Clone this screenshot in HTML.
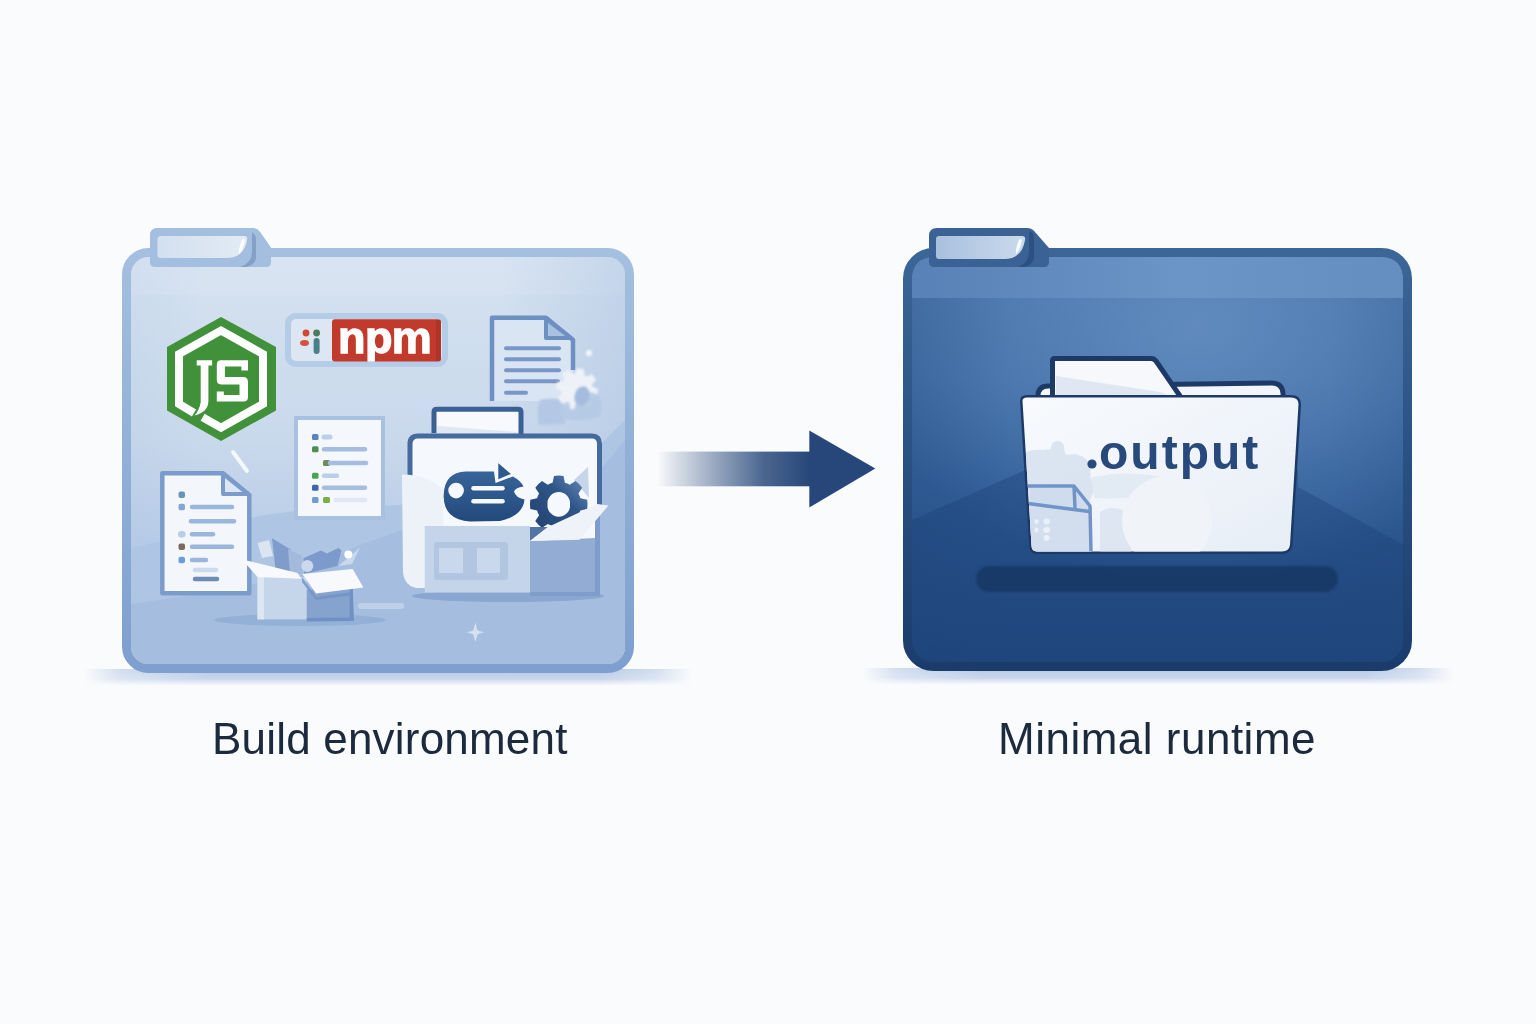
<!DOCTYPE html>
<html><head><meta charset="utf-8">
<style>
html,body{margin:0;padding:0;width:1536px;height:1024px;overflow:hidden;background:#fafbfd;}
svg{position:absolute;left:0;top:0;display:block;will-change:transform;}
.lbl{position:absolute;will-change:transform;font-family:"Liberation Sans",sans-serif;color:#1b2a3c;font-size:43px;line-height:1;white-space:nowrap;}
</style></head>
<body>
<svg width="1536" height="1024" viewBox="0 0 1536 1024">
<defs>
  <linearGradient id="lfFill" x1="0" y1="0" x2="0" y2="1">
    <stop offset="0" stop-color="#d5e2f0"/>
    <stop offset="0.45" stop-color="#c9d9ec"/>
    <stop offset="1" stop-color="#a3bde0"/>
  </linearGradient>
  <linearGradient id="lfStroke" x1="0" y1="0" x2="0" y2="1">
    <stop offset="0" stop-color="#a4bfdf"/>
    <stop offset="1" stop-color="#7e9fcf"/>
  </linearGradient>
  <linearGradient id="rfFill" x1="0" y1="0" x2="0" y2="1">
    <stop offset="0" stop-color="#4673aa"/>
    <stop offset="0.3" stop-color="#3d6ba4"/>
    <stop offset="0.55" stop-color="#305d97"/>
    <stop offset="1" stop-color="#214a80"/>
  </linearGradient>
  <linearGradient id="rfEdge" x1="0" y1="0" x2="1" y2="0">
    <stop offset="0" stop-color="#1d3d6c" stop-opacity="0.15"/>
    <stop offset="0.2" stop-color="#1d3d6c" stop-opacity="0"/>
    <stop offset="0.85" stop-color="#1d3d6c" stop-opacity="0"/>
    <stop offset="1" stop-color="#1d3d6c" stop-opacity="0.08"/>
  </linearGradient>
  <linearGradient id="tabInR" x1="0" y1="0" x2="1" y2="0">
    <stop offset="0" stop-color="#a9c0de"/>
    <stop offset="1" stop-color="#cadaec"/>
  </linearGradient>
  <linearGradient id="tabInL" x1="0" y1="0" x2="1" y2="0">
    <stop offset="0" stop-color="#d3e0ef"/>
    <stop offset="1" stop-color="#e2ebf5"/>
  </linearGradient>
  <linearGradient id="bandR" x1="0" y1="0" x2="1" y2="0">
    <stop offset="0" stop-color="#5882b7"/>
    <stop offset="0.55" stop-color="#6b95c7"/>
    <stop offset="1" stop-color="#648dc0"/>
  </linearGradient>
  <linearGradient id="rfStroke" x1="0" y1="0" x2="0" y2="1">
    <stop offset="0" stop-color="#3c6697"/>
    <stop offset="0.3" stop-color="#30598c"/>
    <stop offset="1" stop-color="#1b3c6b"/>
  </linearGradient>
  <radialGradient id="rfGlow" cx="0.58" cy="0.08" r="0.7">
    <stop offset="0" stop-color="#6892c5" stop-opacity="0.8"/>
    <stop offset="1" stop-color="#6a93c5" stop-opacity="0"/>
  </radialGradient>
  <linearGradient id="ifFill" x1="0" y1="0" x2="0" y2="1">
    <stop offset="0" stop-color="#f7f9fc"/>
    <stop offset="1" stop-color="#e9eff7"/>
  </linearGradient>
  <filter id="blur1" x="-10%" y="-50%" width="120%" height="200%"><feGaussianBlur stdDeviation="1.2"/></filter>
  <clipPath id="ifClip"><path d="M1022.5 401 Q1022.5 397.5 1027 397.5 L1291 397.5 Q1298.5 397.5 1298.5 404 L1290 545 Q1289 551.5 1282 551.5 L1037 551.5 Q1031.5 551.5 1031.5 545 Z"/></clipPath>
  <filter id="blur08" x="-20%" y="-20%" width="140%" height="140%"><feGaussianBlur stdDeviation="0.8"/></filter>
  <clipPath id="lfClip"><rect x="131" y="257" width="494" height="407" rx="17"/></clipPath>
  <linearGradient id="gearG" x1="0" y1="1" x2="1" y2="0">
    <stop offset="0" stop-color="#213f6f"/>
    <stop offset="0.6" stop-color="#2f5588"/>
    <stop offset="1" stop-color="#6a8cbb"/>
  </linearGradient>
  <clipPath id="npmClip"><rect x="332" y="319.3" width="109" height="42.2"/></clipPath>
  <linearGradient id="ifShade" x1="0" y1="0" x2="1" y2="1">
    <stop offset="0" stop-color="#f8fafd"/>
    <stop offset="0.6" stop-color="#eef3f9"/>
    <stop offset="1" stop-color="#e6edf6"/>
  </linearGradient>
  <linearGradient id="bubG" x1="0" y1="0" x2="0" y2="1">
    <stop offset="0" stop-color="#38649a"/>
    <stop offset="1" stop-color="#23497c"/>
  </linearGradient>
  <linearGradient id="lfEdge" x1="0" y1="0" x2="1" y2="0">
    <stop offset="0" stop-color="#9db8dc" stop-opacity="0.12"/>
    <stop offset="0.15" stop-color="#9db8dc" stop-opacity="0"/>
    <stop offset="0.75" stop-color="#9db8dc" stop-opacity="0"/>
    <stop offset="1" stop-color="#9db8dc" stop-opacity="0.32"/>
  </linearGradient>
  <linearGradient id="arrowG" x1="0" y1="0" x2="1" y2="0">
    <stop offset="0" stop-color="#2a4b7c" stop-opacity="0"/>
    <stop offset="0.12" stop-color="#2a4b7c" stop-opacity="0.15"/>
    <stop offset="0.4" stop-color="#2a4b7c" stop-opacity="0.5"/>
    <stop offset="0.7" stop-color="#2a4b7c" stop-opacity="0.85"/>
    <stop offset="1" stop-color="#27477a"/>
  </linearGradient>
  <linearGradient id="shadowG" x1="0" y1="0" x2="0" y2="1">
    <stop offset="0" stop-color="#a9c0e1" stop-opacity="0.85"/>
    <stop offset="0.6" stop-color="#b3c7e4" stop-opacity="0.7"/>
    <stop offset="1" stop-color="#c6d5ea" stop-opacity="0"/>
  </linearGradient>
  <linearGradient id="shMaskG" x1="0" y1="0" x2="1" y2="0">
    <stop offset="0" stop-color="#fff" stop-opacity="0"/>
    <stop offset="0.06" stop-color="#fff" stop-opacity="0.6"/>
    <stop offset="0.2" stop-color="#fff" stop-opacity="1"/>
    <stop offset="0.85" stop-color="#fff" stop-opacity="1"/>
    <stop offset="0.94" stop-color="#fff" stop-opacity="0.6"/>
    <stop offset="1" stop-color="#fff" stop-opacity="0"/>
  </linearGradient>
  <mask id="shMaskL" maskUnits="userSpaceOnUse" x="80" y="660" width="620" height="40"><rect x="84" y="660" width="608" height="40" fill="url(#shMaskG)"/></mask>
  <mask id="shMaskR" maskUnits="userSpaceOnUse" x="850" y="660" width="620" height="40"><rect x="862" y="660" width="592" height="40" fill="url(#shMaskG)"/></mask>
</defs>

<!-- ============ LEFT FOLDER ============ -->
<g id="leftFolder">
  <rect x="84" y="669" width="608" height="17" fill="url(#shadowG)" mask="url(#shMaskL)"/>
  <!-- tab -->
  <path d="M150 236 Q150 228 158 228 L252 228 Q257 228 260 232 L271 248 L271 267 L150 267 Z" fill="#a3bede"/>
  <!-- body -->
  <rect x="126.5" y="252.5" width="503" height="416" rx="22" fill="url(#lfFill)" stroke="url(#lfStroke)" stroke-width="9"/>
  <g clip-path="url(#lfClip)">
    <rect x="131" y="257" width="494" height="38" fill="#e0e9f4" opacity="0.3"/>
    <rect x="131" y="257" width="494" height="407" fill="url(#lfEdge)"/>
    <!-- hills -->
    <path d="M131 548 Q190 536 255 517 Q300 508 400 505 L600 445 L625 420 L625 664 L131 664 Z" fill="#afc5e4"/>
    <path d="M131 604 Q220 592 300 575 L352 548 L404 529 L600 470 L625 440 L625 664 L131 664 Z" fill="#a5bee0"/>

    <!-- JS hexagon -->
    <path d="M221 317 L276 347 L276 410.5 L221 441 L167 410.5 L167 347 Z" fill="#41913a"/>
    <path d="M202.6 417.3 L221 427.7 L263 404 L263 354 L221 330.5 L179 354 L179 404 L194 413" fill="none" stroke="#ffffff" stroke-width="8" stroke-linejoin="miter"/>
    <path d="M196.7 360.2 L212.1 360.2 L212.1 365.4 L208.4 365.4 L208.4 401 Q208.4 412 194.5 415.5 Q199.5 410 200.7 402 L200.7 365.4 L196.7 365.4 Z" fill="#ffffff"/>
    <path d="M216.8 364.5 Q216.8 360.2 221 360.2 L248 360.2 L248 370.5 L241.4 370.5 L241.4 366.5 L224.9 366.5 L224.9 377 L243 377 Q248 377 248 382 L248 397 Q248 401.6 243.4 401.6 L216.8 401.6 L216.8 391.4 L223.8 391.4 L223.8 395 L239.5 395 L239.5 384.4 L221 384.4 Q216.8 384.4 216.8 380 Z" fill="#ffffff"/>

    <!-- npm badge -->
    <rect x="288" y="316" width="157" height="48" rx="8" fill="#dce7f3" stroke="#b5cce7" stroke-width="6"/>
    <rect x="332" y="319.3" width="109" height="42.2" rx="3" fill="#c23a2c"/>
    <rect x="436" y="320" width="5" height="41" rx="2" fill="#a52f24" opacity="0.6"/>
    <text x="338" y="352.7" font-family="Liberation Sans" font-weight="bold" font-size="45" fill="#ffffff" stroke="#ffffff" stroke-width="1.3" letter-spacing="-0.6" clip-path="url(#npmClip)">npm</text>
    <circle cx="306" cy="333" r="3.4" fill="#d8452f"/>
    <circle cx="316.6" cy="333" r="3.4" fill="#4d7a5e"/>
    <ellipse cx="304.5" cy="343" rx="4.5" ry="3" fill="#d6503a"/>
    <rect x="313.6" y="338" width="6" height="16" rx="3" fill="#4b7f88"/>

    <!-- top right document -->
    <path d="M492 401 L492 317.7 L546 317.7 L573 340 L573 401 Z" fill="#d9e5f2"/><path d="M492 401 L492 317.7 L546 317.7 L573 340 L573 370" fill="none" stroke="#6d8fc2" stroke-width="4.5" stroke-linejoin="round"/>
    <path d="M546 319 L546 338 L571 338 Z" fill="#a9c2e0" stroke="#6d8fc2" stroke-width="4" stroke-linejoin="round"/>
    <g stroke="#7896c6" stroke-width="4" stroke-linecap="round">
      <line x1="506" y1="348.3" x2="559" y2="348.3"/>
      <line x1="506" y1="359.2" x2="559" y2="359.2"/>
      <line x1="506" y1="370.2" x2="559" y2="370.2"/>
      <line x1="506" y1="381.3" x2="558" y2="381.3"/>
      <line x1="506" y1="392.8" x2="526" y2="392.8"/>
    </g>
    <!-- fuzzy gear cluster -->
    <g filter="url(#blur08)">
      <path d="M540 400 Q552 397 563 400 L565 424 L539 425 Q536 412 540 400 Z" fill="#b3c8e4"/>
      <path d="M560 407 Q575 401 592 402 Q603 406 600 416 Q590 421 570 420 Q558 418 560 407 Z" fill="#b6cbe5"/>
      <path d="M574.7 373.7 L577.2 368.0 L584.0 369.2 L584.4 375.4 A15.5 15.5 0 0 1 586.2 376.5 L586.2 376.5 L592.0 374.3 L596.0 380.0 L591.9 384.6 A15.5 15.5 0 0 1 592.3 386.7 L592.3 386.7 L598.0 389.2 L596.8 396.0 L590.6 396.4 A15.5 15.5 0 0 1 589.5 398.2 L589.5 398.2 L591.7 404.0 L586.0 408.0 L581.4 403.9 A15.5 15.5 0 0 1 579.3 404.3 L579.3 404.3 L576.8 410.0 L570.0 408.8 L569.6 402.6 A15.5 15.5 0 0 1 567.8 401.5 L567.8 401.5 L562.0 403.7 L558.0 398.0 L562.1 393.4 A15.5 15.5 0 0 1 561.7 391.3 L561.7 391.3 L556.0 388.8 L557.2 382.0 L563.4 381.6 A15.5 15.5 0 0 1 564.5 379.8 L564.5 379.8 L562.3 374.0 L568.0 370.0 L572.6 374.1 A15.5 15.5 0 0 1 574.7 373.7 Z" fill="#eef2f8"/>
      <path d="M588 392 Q600 392 602 404 Q603 416 590 419 Q578 420 574 410 Q576 396 588 392 Z" fill="#b5cae5" opacity="0.95"/>
      <ellipse cx="582" cy="396" rx="7.5" ry="10" transform="rotate(15 582 396)" fill="#a4bcde"/>
      <circle cx="589" cy="353" r="3" fill="#f4f7fb"/>
    </g>

    <!-- middle doc -->
    <rect x="296" y="418" width="87" height="100" fill="#f4f7fb" stroke="#a9c1e0" stroke-width="4"/>
    <g stroke-linecap="round">
      <rect x="312" y="434" width="6.5" height="6" rx="1.5" fill="#5a82c0"/>
      <line x1="324" y1="437" x2="330" y2="437" stroke="#bcd0ea" stroke-width="5"/>
      <rect x="312" y="446.2" width="6.5" height="6" rx="1.5" fill="#4f8d55"/>
      <line x1="324" y1="449.2" x2="365" y2="449.2" stroke="#a4bde0" stroke-width="4.5"/>
      <rect x="323" y="460" width="7" height="6" rx="1.5" fill="#6f8a63"/>
      <line x1="330" y1="463" x2="366" y2="463" stroke="#a4bde0" stroke-width="4.5"/>
      <rect x="312" y="472.8" width="6.5" height="6" rx="1.5" fill="#4aa64a"/>
      <line x1="324" y1="475.8" x2="337" y2="475.8" stroke="#bccfe9" stroke-width="4.5"/>
      <rect x="312" y="484.8" width="6.5" height="6" rx="1.5" fill="#3b66b1"/>
      <line x1="324" y1="487.8" x2="365" y2="487.8" stroke="#a4bde0" stroke-width="4.5"/>
      <rect x="312" y="497" width="6.5" height="6" rx="1.5" fill="#6f9bd6"/>
      <rect x="323" y="497" width="7" height="6" rx="1.5" fill="#7ab04a"/>
      <line x1="336" y1="500" x2="365" y2="500" stroke="#dfe8f3" stroke-width="4.5"/>
    </g>

    <!-- slash -->
    <line x1="233" y1="452" x2="247" y2="471" stroke="#f4f7fb" stroke-width="4" stroke-linecap="round"/>

    <!-- left doc -->
    <path d="M162.3 593.3 L162.3 473.3 L223 473.3 L249.3 495 L249.3 593.3 Z" fill="#f3f6fa" stroke="#7b9bcb" stroke-width="4.5" stroke-linejoin="round"/>
    <path d="M223 474 L223 494 L248 494 Z" fill="#dde7f3" stroke="#7b9bcb" stroke-width="4" stroke-linejoin="round"/>
    <g stroke-linecap="round" stroke-width="4.5">
      <rect x="178.5" y="491.5" width="6.5" height="6.5" rx="2" fill="#6a93b5"/>
      <rect x="178.5" y="503.8" width="6.5" height="6.5" rx="2" fill="#82a5d6"/>
      <line x1="192" y1="507" x2="232" y2="507" stroke="#9ab6dc"/>
      <line x1="191" y1="521.3" x2="234" y2="521.3" stroke="#9ab6dc"/>
      <rect x="178" y="531" width="7.5" height="6.5" rx="3" fill="#b8cdea"/>
      <line x1="192" y1="534.3" x2="213" y2="534.3" stroke="#9ab6dc"/>
      <rect x="178.5" y="543.5" width="6.5" height="6.5" rx="2" fill="#7d6a5e"/>
      <line x1="192" y1="546.8" x2="232" y2="546.8" stroke="#9ab6dc"/>
      <rect x="178.5" y="556.8" width="6.5" height="6.5" rx="2" fill="#6a9de0"/>
      <line x1="192" y1="560" x2="206" y2="560" stroke="#9ab6dc"/>
      <line x1="195" y1="570" x2="216" y2="570" stroke="#cbdaee"/>
      <line x1="195" y1="579" x2="217" y2="579" stroke="#6d8cb5"/>
    </g>

    <!-- open box -->
    <ellipse cx="300" cy="620" rx="86" ry="6" fill="#8caad3" opacity="0.7"/>
    <path d="M257.5 543 L269 540 L273 556 L262 558 Z" fill="#dbe5f2"/>
    <path d="M272 538.3 L290.7 549.5 L291 574 L276 574 Z" fill="#7f9cca"/>
    <path d="M288 549 L302 556 L303 574 L290 574 Z" fill="#a3badd"/>
    <path d="M303.4 558.3 L321 550.5 L326.8 553.4 L338.5 548 L341.4 550.5 L337.5 566 L304 574 Z" fill="#7c9acb"/>
    <circle cx="307.3" cy="566" r="6" fill="#cbd9ec"/>
    <path d="M338.5 566 L360 547.6 L352 564 Z" fill="#c9d8ec"/>
    <circle cx="348.3" cy="554.4" r="4" fill="#ffffff"/>
    <rect x="257.5" y="577" width="49.3" height="42.4" fill="#c6d6ea"/>
    <rect x="257.5" y="577" width="6.5" height="42.4" fill="#dde7f3"/>
    <path d="M306.8 590 L352.7 586 L352.7 620.3 L306.8 620.3 Z" fill="#86a3ce"/>
    <path d="M349.7 586 L352.7 586 L354 621 L306.8 621.5 L306.8 618 L349.7 617.5 Z" fill="#6f91c4"/>
    <path d="M302 577 L316 597 L352.7 592 L352.7 595 L316 600 L302 582 Z" fill="#6f91c4" opacity="0.8"/>
    <path d="M241.8 559.3 L247.7 560.8 L297.5 573 L301.4 578.8 L257.5 577 Z" fill="#f7f9fc"/>
    <path d="M302.4 574 L352.7 569 L363.4 587.6 L316 593.5 Z" fill="#f7f9fc"/>

    <!-- pill & sparkle -->
    <rect x="358" y="603" width="46" height="6" rx="3" fill="#bfd1ea"/>
    <path d="M475.4 622.5 Q477 629 477.5 630.2 Q479 631 484.5 632.3 Q479 633.6 477.5 634.4 Q477 636 475.4 642 Q473.8 636 473.3 634.4 Q471.8 633.6 466.3 632.3 Q471.8 631 473.3 630.2 Q473.8 629 475.4 622.5 Z" fill="#d5e1f0"/>

    <!-- box folder -->
    <ellipse cx="508" cy="596" rx="96" ry="6" fill="#7f9dca" opacity="0.7"/>
    <path d="M434 433 L434 412 Q434 409.3 437 409.3 L518 409.3 Q521 409.3 521 412 L521 436" fill="#f7f9fc" stroke="#3b6095" stroke-width="5"/>
    <path d="M437 426 L518 432 L518 436 L437 436 Z" fill="#dfe7f2"/>
    <path d="M410 586 L410 444 Q410 436 418 436 L592 436 Q599.5 436 599.5 444 L599.5 586 Z" fill="#f5f8fc"/>
    <path d="M410 480 L410 444 Q410 436 418 436 L592 436 Q599.5 436 599.5 444 L599.5 506" fill="none" stroke="#456a9d" stroke-width="5"/>
    <!-- light left sheet -->
    <path d="M402 474.5 Q425 474 443 489 L444 588 L416 588 Q404 585 403 572 Z" fill="#edf2f8"/>
    <!-- speech bubble -->
    <path d="M466 471.5 L494 471.5 L495.5 483 L513 476.5 Q521 481 523.5 486.5 Q515.5 487.5 514 491.5 Q515.5 497.5 524.5 499.6 Q523 516 500 521 L470 521.5 Q444 520 443.6 496 Q444 472 466 471.5 Z" fill="url(#bubG)"/>
    <path d="M497.5 461.3 L512.3 474.2 L497.5 480.5 Z" fill="#2f5a8f" stroke="#f5f8fc" stroke-width="1.6" stroke-linejoin="round"/>
    <circle cx="456.1" cy="490.6" r="7.8" fill="#f5f8fc"/>
    <g stroke="#f5f8fc" stroke-width="4.5" stroke-linecap="round">
      <line x1="473.5" y1="488.3" x2="502.5" y2="488.3"/>
      <line x1="473.5" y1="501.2" x2="502.5" y2="501.2"/>
    </g>
    <!-- light triangle behind gear -->
    <path d="M574 480 L588 467 L589 498 Z" fill="#c6d6ea"/>
    <!-- gear -->
    <path fill-rule="evenodd" fill="url(#gearG)" d="M552.6 482.8 L554.0 476.0 A28.8 28.8 0 0 1 563.5 476.0 L564.9 482.8 A22.5 22.5 0 0 1 569.7 484.7 L569.7 484.7 L575.5 481.0 A28.8 28.8 0 0 1 582.2 487.7 L578.4 493.5 A22.5 22.5 0 0 1 580.4 498.2 L580.4 498.2 L587.2 499.7 A28.8 28.8 0 0 1 587.2 509.1 L580.4 510.6 A22.5 22.5 0 0 1 578.4 515.3 L578.4 515.3 L582.2 521.1 A28.8 28.8 0 0 1 575.5 527.8 L569.7 524.1 A22.5 22.5 0 0 1 564.9 526.0 L564.9 526.0 L563.5 532.8 A28.8 28.8 0 0 1 554.0 532.8 L552.6 526.0 A22.5 22.5 0 0 1 547.8 524.1 L547.8 524.1 L542.0 527.8 A28.8 28.8 0 0 1 535.3 521.1 L539.1 515.3 A22.5 22.5 0 0 1 537.1 510.6 L537.1 510.6 L530.3 509.1 A28.8 28.8 0 0 1 530.3 499.7 L537.1 498.2 A22.5 22.5 0 0 1 539.1 493.5 L539.1 493.5 L535.3 487.7 A28.8 28.8 0 0 1 542.0 481.0 L547.8 484.7 A22.5 22.5 0 0 1 552.6 482.8 Z M570 504.4 A11.3 11.3 0 1 0 547.5 504.4 A11.3 11.3 0 1 0 570 504.4 Z"/>
    <!-- box -->
    <path d="M524 527 L548 527 L530 541 Z" fill="#5275a6"/>
    <rect x="424.7" y="526" width="105.3" height="66.6" fill="#c4d5ea"/>
    <rect x="434" y="542" width="74" height="38" rx="3" fill="#b3c6e1"/>
    <rect x="439" y="548" width="24" height="25" fill="#c9d8ec"/>
    <rect x="477" y="548" width="23" height="25" fill="#c9d8ec"/>
    <path d="M530 541 L595 538 L595 592 L530 592 Z" fill="#93acd3"/>
    <path d="M595 512 L600 508 L600 596 L530 596 L530 592 L595 592 Z" fill="#7f9dca"/>
    <path d="M530 541 L548 527 L597.5 504 L608.4 505.5 L579.5 539.8 Z" fill="#eef3f9"/>
  </g>
  <!-- tab front over body -->
  <path d="M150 236 Q150 228 158 228 L252 228 Q257 228 260 232 L271 248 L271 262 Q271 267 266 267 L155 267 Q150 267 150 262 Z" fill="#a3bede"/>
  <path d="M252 232 Q255 234 256 238 L256 258 Q255 265 246 267 L240 267 Q252 263 252 252 Z" fill="#7895c2" opacity="0.75"/>
  <path d="M157.5 239 Q157.5 236 160.5 236 L244 236 Q248 236 247 240 Q244 258 226 258 L160.5 258 Q157.5 258 157.5 255 Z" fill="url(#tabInL)"/>
  <path d="M242 240 Q244 238 245 240 Q243 250 239 254 Q238 250 242 240 Z" fill="#ffffff" opacity="0.9"/>
</g>

<!-- ============ ARROW ============ -->
<rect x="657" y="451.6" width="153" height="34.7" fill="url(#arrowG)"/>
<path d="M809.3 430.5 L875.3 468.6 L809.3 507.5 Z" fill="#27477a"/>

<!-- ============ RIGHT FOLDER ============ -->
<g id="rightFolder">
  <rect x="862" y="668" width="592" height="17" fill="url(#shadowG)" mask="url(#shMaskR)"/>
  <rect x="907.5" y="252.5" width="500" height="414" rx="26" fill="url(#rfFill)" stroke="url(#rfStroke)" stroke-width="9"/>
  <!-- top light band -->
  <path d="M912 298 L912 280 Q912 257 935 257 L1380 257 Q1403 257 1403 280 L1403 298 Z" fill="url(#bandR)"/>
  <!-- radial light -->
  <rect x="912" y="298" width="491" height="364" fill="url(#rfGlow)"/>
  <rect x="912" y="298" width="491" height="364" fill="url(#rfEdge)"/>
  <!-- mountain -->
  <path d="M912 520 L944 506 L1030 468 L1298 470 L1298 487 L1404 545 L1404 662 L912 662 Z" fill="#1c4279" opacity="0.4"/>
  <!-- shadow bar -->
  <rect x="976" y="566" width="362" height="26" rx="13" fill="#183865" opacity="0.85" filter="url(#blur1)"/>
  <!-- inner folder back -->
  <path d="M1038 396 Q1038 386 1048 386 L1272 383 Q1282 383 1283 393 L1285 420 L1040 420 Z" fill="#f2f5f9" stroke="#1d3a66" stroke-width="5" stroke-linejoin="round"/>
  <!-- paper tab -->
  <path d="M1052.5 420 L1052.5 361 Q1052.5 358.5 1055 358.5 L1151 358.5 Q1154 358.5 1156 361 L1180 396 L1180 420 Z" fill="#f6f8fb" stroke="#1d3a66" stroke-width="5" stroke-linejoin="round"/>
  <path d="M1056 376 L1160 392 L1176 398 L1056 398 Z" fill="#dfe7f2"/>
  <!-- front panel -->
  <path d="M1022.5 401 Q1022.5 397.5 1027 397.5 L1291 397.5 Q1298.5 397.5 1298.5 404 L1290 545 Q1289 551.5 1282 551.5 L1037 551.5 Q1031.5 551.5 1031.5 545 Z" fill="url(#ifFill)" stroke="#1d3a66" stroke-width="5" stroke-linejoin="round"/>
  <!-- faint watermark shapes in inner folder -->
  <g clip-path="url(#ifClip)">
    <rect x="1020" y="396" width="282" height="160" fill="url(#ifShade)"/>
    <path d="M1026 452 Q1034 449 1044 450 L1051 449 Q1051 441 1058 441 Q1064 441 1064 449 L1066 455 Q1082 452 1088 462 Q1092 470 1090 478 Q1097 488 1090 500 L1092 552 L1026 552 Z" fill="#d6e1ee" opacity="0.85"/>
    <path d="M1090 478 Q1120 470 1160 476 Q1168 484 1160 492 Q1130 500 1095 498 Z" fill="#dfe7f2" opacity="0.8"/>
    <path d="M1100 512 Q1112 505 1122 510 Q1130 512 1130 525 Q1134 535 1131 552 L1100 552 Z" fill="#d9e3f0" opacity="0.85"/>
    <circle cx="1167" cy="521" r="45" fill="#f0f4f9"/>
    <path d="M1030 486 L1074 486 L1091 506 L1091 552 L1030 552 Z" fill="#cbd9eb" opacity="0.7"/>
    <path d="M1030 504 L1089 511 L1091 552 L1030 552 Z" fill="#d3dfee" opacity="0.6"/>
    <g fill="none" stroke="#7094c7" stroke-width="3.5" stroke-linejoin="round">
      <path d="M1028 486 L1074 486 L1090 506 L1091 552"/>
      <path d="M1028 503.6 L1089 511.4"/>
      <path d="M1074 486 L1075 508"/>
    </g>
    <g fill="#eef3f9" opacity="0.9">
      <ellipse cx="1046.7" cy="521.5" rx="3" ry="3"/>
      <ellipse cx="1046.7" cy="530" rx="3.5" ry="3"/>
      <ellipse cx="1046.7" cy="538" rx="3" ry="3"/>
      <ellipse cx="1036.5" cy="521.5" rx="2" ry="2.5"/>
      <ellipse cx="1036.5" cy="530" rx="2" ry="2.5"/>
    </g>
  </g>
  <circle cx="1092" cy="464" r="4.6" fill="#28497b"/>
  <text x="1099" y="468.5" font-family="Liberation Sans" font-weight="bold" font-size="48" letter-spacing="2" fill="#28497b">output</text>
  <!-- tab -->
  <path d="M929 236 Q929 228 937 228 L1027 228 Q1032 228 1035 232 L1049 248 L1049 262 Q1049 267 1044 267 L934 267 Q929 267 929 262 Z" fill="#3a6295"/>
  <path d="M1029 231 Q1033 232 1034 236 L1034 258 Q1033 265 1024 267 L1018 267 Q1029 263 1029 252 Z" fill="#27497a" opacity="0.7"/>
  <path d="M936 239 Q936 236 939 236 L1022 236 Q1026 236 1025 240 Q1022 259 1004 259 L939 259 Q936 259 936 256 Z" fill="url(#tabInR)"/>
  <path d="M1019 240 Q1021 238 1022 240 Q1020 250 1016 254 Q1015 250 1019 240 Z" fill="#ffffff" opacity="0.9"/>
</g>
</svg>

<div class="lbl" id="l1" style="left:211.5px;top:717px;font-size:44px;letter-spacing:0.2px;">Build environment</div>
<div class="lbl" id="l2" style="left:997.5px;top:717px;font-size:44px;letter-spacing:0.5px;">Minimal runtime</div>
</body></html>
